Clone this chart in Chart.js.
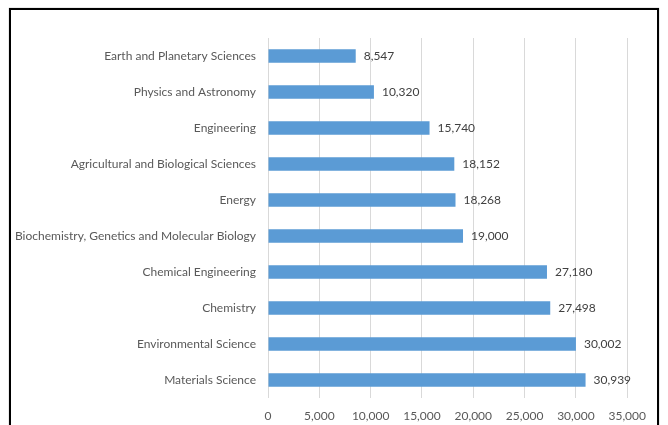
<!DOCTYPE html>
<html>
<head>
<meta charset="utf-8">
<script src="https://cdn.jsdelivr.net/npm/chart.js@4"></script>
<style>
  body { margin: 0; background: #fff; }
  #box {
    position: absolute;
    left: 9px;
    top: 8px;
    width: 646px;
    height: 440px;
    border: 2px solid #000;
    box-shadow: 0 0 1px #888;
  }
  #wrap { position: relative; width: 646px; height: 415px; }
</style>
</head>
<body>
<div id="box">
  <div id="wrap"><canvas id="myChart"></canvas></div>
</div>
<script>
'use strict';

const subjects = [
  'Earth and Planetary Sciences',
  'Physics and Astronomy',
  'Engineering',
  'Agricultural and Biological Sciences',
  'Energy',
  'Biochemistry, Genetics and Molecular Biology',
  'Chemical Engineering',
  'Chemistry',
  'Environmental Science',
  'Materials Science',
];
const documents = [8547, 10320, 15740, 18152, 18268, 19000, 27180, 27498, 30002, 30939];
const xTicks = [0, 5000, 10000, 15000, 20000, 25000, 30000, 35000];

const fontFamily = 'Lato, "Liberation Sans", Arial, sans-serif';
const fmt = (v) => v.toLocaleString('en-US');

// draw the value next to each bar end
const barLabels = {
  id: 'barLabels',
  afterDatasetsDraw(chart) {
    const ctx = chart.ctx;
    const meta = chart.getDatasetMeta(0);
    ctx.save();
    ctx.font = '12px ' + fontFamily;
    ctx.fillStyle = '#404040';
    ctx.textAlign = 'left';
    ctx.textBaseline = 'middle';
    meta.data.forEach((bar, i) => {
      ctx.fillText(fmt(documents[i]), bar.x + 8, bar.y);
    });
    ctx.restore();
  },
};

const ctx = document.getElementById('myChart').getContext('2d');
new Chart(ctx, {
  type: 'bar',
  data: {
    labels: subjects,
    datasets: [
      {
        data: documents,
        backgroundColor: '#5B9BD5',
        borderWidth: 0,
        barPercentage: 0.38,
        categoryPercentage: 1,
      },
    ],
  },
  options: {
    indexAxis: 'y',
    responsive: true,
    maintainAspectRatio: false,
    animation: false,
    layout: { padding: { top: 28, right: 29, bottom: 0, left: 0 } },
    scales: {
      x: {
        min: 0,
        max: 35000,
        afterBuildTicks: (scale) => {
          scale.ticks = xTicks.map((v) => ({ value: v }));
        },
        afterFit: (scale) => {
          scale.height = 27;
        },
        grid: { color: '#d9d9d9', drawTicks: false },
        border: { display: false },
        ticks: {
          padding: 11,
          color: '#595959',
          font: { family: fontFamily, size: 12 },
          callback: (v) => fmt(v),
        },
      },
      y: {
        afterFit: (scale) => {
          scale.width = 257;
        },
        grid: { display: false },
        border: { display: false },
        ticks: {
          padding: 4,
          color: '#595959',
          font: { family: fontFamily, size: 12 },
        },
      },
    },
    plugins: {
      legend: { display: false },
      tooltip: { enabled: false },
    },
  },
  plugins: [barLabels],
});
</script>
</body>
</html>
